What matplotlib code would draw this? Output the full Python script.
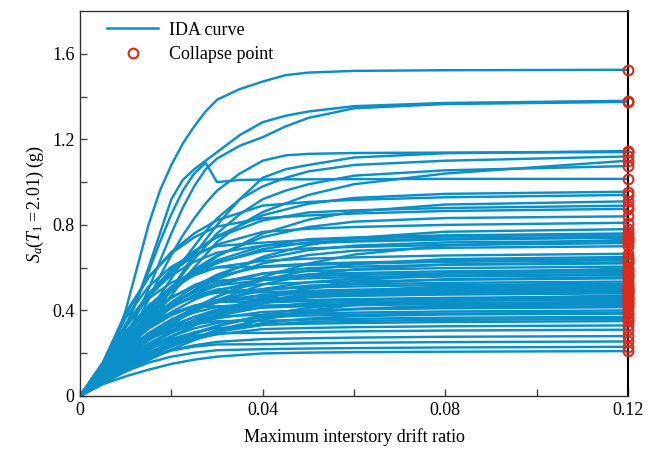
"""IDA curves with collapse points."""

import matplotlib

matplotlib.use("Agg")
import matplotlib.pyplot as plt
from matplotlib.lines import Line2D

# drift grids shared by the IDA curves
drift_fine = [0, 0.005, 0.0075, 0.01, 0.0125, 0.015, 0.0175, 0.02, 0.0225, 0.025, 0.0275,
              0.03, 0.035, 0.04, 0.045, 0.05, 0.06, 0.08, 0.12]
drift = [0, 0.005, 0.01, 0.015, 0.02, 0.025, 0.03, 0.04, 0.05, 0.06, 0.08, 0.12]

# Sa(T1) values (g); upper group on drift_fine, others on drift
sa_upper = [
    [0, 0.12, 0.24, 0.40, 0.60, 0.80, 0.96, 1.08, 1.18, 1.26, 1.33, 1.385, 1.435, 1.47, 1.50, 1.512, 1.52, 1.523, 1.525],
    [0, 0.12, 0.21, 0.32, 0.45, 0.60, 0.76, 0.92, 1.01, 1.06, 1.10, 1.14, 1.22, 1.28, 1.31, 1.33, 1.355, 1.37, 1.38],
    [0, 0.11, 0.19, 0.28, 0.38, 0.50, 0.63, 0.76, 0.88, 0.98, 1.06, 1.11, 1.17, 1.21, 1.26, 1.30, 1.345, 1.365, 1.375],
    [0, 0.13, 0.22, 0.33, 0.45, 0.58, 0.72, 0.85, 0.96, 1.04, 1.09, 1.00, 1.01, 1.012, 1.013, 1.013, 1.014, 1.015, 1.015],
    [0, 0.09, 0.14, 0.20, 0.27, 0.34, 0.42, 0.50, 0.58, 0.66, 0.73, 0.80, 0.92, 1.02, 1.06, 1.08, 1.115, 1.135, 1.145],
    [0, 0.11, 0.18, 0.26, 0.35, 0.45, 0.56, 0.66, 0.75, 0.83, 0.90, 0.96, 1.04, 1.10, 1.125, 1.132, 1.136, 1.138, 1.14],
    [0, 0.10, 0.16, 0.23, 0.31, 0.39, 0.47, 0.55, 0.63, 0.70, 0.77, 0.83, 0.92, 0.98, 1.02, 1.05, 1.08, 1.10, 1.12],
    [0, 0.09, 0.14, 0.20, 0.26, 0.33, 0.40, 0.47, 0.54, 0.60, 0.66, 0.72, 0.80, 0.86, 0.90, 0.94, 0.99, 1.04, 1.10],
    [0, 0.10, 0.16, 0.22, 0.29, 0.36, 0.43, 0.50, 0.57, 0.64, 0.70, 0.76, 0.85, 0.92, 0.96, 0.99, 1.03, 1.055, 1.075],
]

sa_high = [
    [0, 0.150, 0.321, 0.460, 0.577, 0.672, 0.747, 0.845, 0.899, 0.926, 0.945, 0.955],
    [0, 0.155, 0.380, 0.553, 0.673, 0.760, 0.822, 0.890, 0.907, 0.917, 0.929, 0.94],
    [0, 0.136, 0.265, 0.384, 0.489, 0.578, 0.652, 0.759, 0.824, 0.862, 0.895, 0.91],
    [0, 0.150, 0.330, 0.478, 0.591, 0.678, 0.742, 0.821, 0.858, 0.868, 0.879, 0.89],
    [0, 0.155, 0.390, 0.556, 0.667, 0.742, 0.792, 0.831, 0.844, 0.853, 0.865, 0.875],
    [0, 0.140, 0.282, 0.405, 0.507, 0.591, 0.657, 0.743, 0.790, 0.815, 0.832, 0.84],
    [0, 0.150, 0.335, 0.476, 0.580, 0.655, 0.708, 0.767, 0.782, 0.790, 0.800, 0.81],
    [0, 0.116, 0.227, 0.329, 0.419, 0.495, 0.558, 0.651, 0.706, 0.739, 0.768, 0.78],
    [0, 0.145, 0.289, 0.408, 0.505, 0.579, 0.634, 0.701, 0.733, 0.741, 0.751, 0.76],
    [0, 0.155, 0.365, 0.512, 0.604, 0.664, 0.701, 0.717, 0.729, 0.736, 0.746, 0.755],
    [0, 0.140, 0.283, 0.400, 0.495, 0.568, 0.621, 0.687, 0.718, 0.726, 0.736, 0.745],
    [0, 0.150, 0.335, 0.470, 0.564, 0.628, 0.670, 0.703, 0.714, 0.722, 0.731, 0.74],
    [0, 0.091, 0.179, 0.261, 0.337, 0.405, 0.464, 0.556, 0.619, 0.661, 0.704, 0.73],
    [0, 0.125, 0.244, 0.349, 0.438, 0.510, 0.567, 0.642, 0.682, 0.703, 0.718, 0.725],
    [0, 0.145, 0.300, 0.420, 0.512, 0.578, 0.625, 0.677, 0.690, 0.697, 0.706, 0.715],
    [0, 0.121, 0.235, 0.337, 0.423, 0.493, 0.547, 0.620, 0.659, 0.679, 0.693, 0.70],
]

sa_mid = [
    [0, 0.145, 0.300, 0.422, 0.507, 0.564, 0.602, 0.632, 0.642, 0.648, 0.657, 0.665],
    [0, 0.097, 0.189, 0.274, 0.349, 0.413, 0.465, 0.542, 0.588, 0.616, 0.640, 0.65],
    [0, 0.141, 0.270, 0.376, 0.458, 0.518, 0.559, 0.606, 0.618, 0.624, 0.632, 0.64],
    [0, 0.150, 0.330, 0.455, 0.530, 0.575, 0.601, 0.603, 0.613, 0.619, 0.627, 0.635],
    [0, 0.093, 0.182, 0.264, 0.336, 0.397, 0.448, 0.521, 0.566, 0.592, 0.615, 0.625],
    [0, 0.122, 0.236, 0.333, 0.412, 0.472, 0.517, 0.572, 0.598, 0.605, 0.613, 0.62],
    [0, 0.134, 0.255, 0.356, 0.433, 0.489, 0.529, 0.573, 0.584, 0.590, 0.598, 0.605],
    [0, 0.074, 0.146, 0.213, 0.275, 0.330, 0.378, 0.453, 0.505, 0.538, 0.574, 0.595],
    [0, 0.116, 0.224, 0.317, 0.392, 0.450, 0.492, 0.544, 0.569, 0.575, 0.583, 0.59],
    [0, 0.150, 0.291, 0.393, 0.464, 0.510, 0.539, 0.551, 0.560, 0.566, 0.573, 0.58],
    [0, 0.140, 0.263, 0.362, 0.434, 0.483, 0.516, 0.542, 0.550, 0.556, 0.563, 0.57],
    [0, 0.098, 0.190, 0.272, 0.341, 0.398, 0.442, 0.500, 0.532, 0.548, 0.559, 0.565],
    [0, 0.083, 0.162, 0.234, 0.298, 0.352, 0.397, 0.463, 0.502, 0.526, 0.546, 0.555],
    [0, 0.135, 0.254, 0.349, 0.419, 0.466, 0.498, 0.523, 0.531, 0.536, 0.543, 0.55],
    [0, 0.105, 0.203, 0.287, 0.355, 0.408, 0.446, 0.493, 0.516, 0.522, 0.529, 0.535],
    [0, 0.141, 0.263, 0.356, 0.420, 0.462, 0.488, 0.499, 0.507, 0.512, 0.519, 0.525],
    [0, 0.077, 0.151, 0.219, 0.279, 0.330, 0.372, 0.434, 0.471, 0.492, 0.512, 0.52],
    [0, 0.148, 0.274, 0.365, 0.425, 0.462, 0.483, 0.485, 0.492, 0.497, 0.504, 0.51],
    [0, 0.087, 0.170, 0.243, 0.305, 0.356, 0.395, 0.447, 0.475, 0.490, 0.500, 0.505],
    [0, 0.111, 0.211, 0.294, 0.358, 0.405, 0.437, 0.474, 0.483, 0.488, 0.494, 0.50],
    [0, 0.121, 0.229, 0.314, 0.377, 0.420, 0.448, 0.470, 0.478, 0.483, 0.489, 0.495],
    [0, 0.085, 0.165, 0.236, 0.296, 0.345, 0.383, 0.434, 0.461, 0.475, 0.485, 0.49],
    [0, 0.096, 0.184, 0.260, 0.322, 0.370, 0.404, 0.447, 0.468, 0.473, 0.479, 0.485],
    [0, 0.129, 0.240, 0.325, 0.384, 0.422, 0.446, 0.456, 0.463, 0.468, 0.474, 0.48],
    [0, 0.058, 0.115, 0.168, 0.217, 0.261, 0.298, 0.358, 0.399, 0.425, 0.453, 0.47],
    [0, 0.135, 0.250, 0.333, 0.388, 0.421, 0.440, 0.442, 0.449, 0.453, 0.459, 0.465],
    [0, 0.113, 0.213, 0.292, 0.351, 0.390, 0.416, 0.437, 0.444, 0.449, 0.454, 0.46],
    [0, 0.068, 0.132, 0.192, 0.244, 0.289, 0.326, 0.379, 0.412, 0.431, 0.448, 0.455],
    [0, 0.089, 0.171, 0.242, 0.299, 0.343, 0.375, 0.415, 0.434, 0.439, 0.445, 0.45],
    [0, 0.148, 0.266, 0.344, 0.389, 0.414, 0.420, 0.423, 0.426, 0.429, 0.435, 0.44],
    [0, 0.107, 0.201, 0.276, 0.331, 0.369, 0.394, 0.413, 0.420, 0.424, 0.430, 0.435],
    [0, 0.064, 0.125, 0.181, 0.231, 0.273, 0.308, 0.359, 0.389, 0.407, 0.423, 0.43],
    [0, 0.073, 0.141, 0.202, 0.254, 0.296, 0.328, 0.372, 0.395, 0.407, 0.416, 0.42],
    [0, 0.092, 0.175, 0.244, 0.297, 0.336, 0.363, 0.393, 0.400, 0.405, 0.410, 0.415],
    [0, 0.107, 0.200, 0.271, 0.320, 0.352, 0.372, 0.380, 0.386, 0.390, 0.395, 0.40],
    [0, 0.086, 0.165, 0.229, 0.279, 0.316, 0.341, 0.369, 0.376, 0.380, 0.385, 0.39],
]

sa_low = [
    [0, 0.067, 0.129, 0.186, 0.233, 0.271, 0.301, 0.341, 0.362, 0.373, 0.381, 0.385],
    [0, 0.108, 0.199, 0.265, 0.309, 0.335, 0.350, 0.352, 0.357, 0.361, 0.366, 0.37],
    [0, 0.071, 0.137, 0.193, 0.239, 0.274, 0.300, 0.332, 0.347, 0.351, 0.356, 0.36],
    [0, 0.086, 0.162, 0.222, 0.267, 0.297, 0.317, 0.333, 0.338, 0.341, 0.346, 0.35],
    [0, 0.073, 0.139, 0.194, 0.236, 0.267, 0.288, 0.313, 0.318, 0.322, 0.326, 0.33],
    [0, 0.090, 0.166, 0.222, 0.259, 0.281, 0.294, 0.295, 0.299, 0.302, 0.306, 0.31],
    [0, 0.069, 0.129, 0.178, 0.213, 0.237, 0.253, 0.266, 0.270, 0.273, 0.277, 0.28],
    [0, 0.074, 0.137, 0.183, 0.213, 0.231, 0.241, 0.242, 0.246, 0.249, 0.252, 0.255],
    [0, 0.062, 0.115, 0.156, 0.184, 0.202, 0.214, 0.219, 0.222, 0.224, 0.227, 0.23],
    [0, 0.055, 0.092, 0.123, 0.150, 0.170, 0.184, 0.199, 0.203, 0.205, 0.207, 0.21],
]

collapse_drift = 0.12

blue = "#0a8fc8"
red = "#dd2a1b"

plt.rcParams["font.family"] = "Liberation Serif"
plt.rcParams["mathtext.fontset"] = "custom"
plt.rcParams["mathtext.rm"] = "Liberation Serif"
plt.rcParams["mathtext.it"] = "Liberation Serif:italic"

fig = plt.figure(figsize=(6.58, 4.5), dpi=100)
ax = fig.add_axes([0.1216, 0.12, 0.8328, 0.8556])

for sa in sa_upper:
    ax.plot(drift_fine, sa, color=blue, linewidth=1.75, solid_joinstyle="round", zorder=2)
for sa in sa_high + sa_mid + sa_low:
    ax.plot(drift, sa, color=blue, linewidth=1.75, solid_joinstyle="round", zorder=2)

collapse_sa = [sa[-1] for sa in sa_upper + sa_high + sa_mid + sa_low]
ax.plot([collapse_drift] * len(collapse_sa), collapse_sa, linestyle="none", marker="o",
        markersize=7, markerfacecolor="none", markeredgecolor=red, markeredgewidth=1.5,
        clip_on=False, zorder=3)

ax.set_xlim(0, 0.12)
ax.set_ylim(0, 1.8)
ax.set_xticks([0, 0.02, 0.04, 0.06, 0.08, 0.10, 0.12])
ax.set_xticklabels(["0", "", "0.04", "", "0.08", "", "0.12"])
ax.set_yticks([0, 0.2, 0.4, 0.6, 0.8, 1.0, 1.2, 1.4, 1.6])
ax.set_yticklabels(["0", "", "0.4", "", "0.8", "", "1.2", "", "1.6"])
ax.tick_params(direction="in", length=5, width=1, color="#444444", labelsize=13, pad=4)

for side in ["left", "bottom", "top"]:
    ax.spines[side].set_color("#333333")
    ax.spines[side].set_linewidth(1.0)
ax.spines["right"].set_color("black")
ax.spines["right"].set_linewidth(1.5)

ax.set_xlabel("Maximum interstory drift ratio", fontsize=13, labelpad=7)
ax.set_ylabel(r"$S_a(T_1 = 2.01)$ (g)", fontsize=13, labelpad=4)

handles = [
    Line2D([], [], color=blue, linewidth=1.8, label="IDA curve"),
    Line2D([], [], linestyle="none", marker="o", markersize=7, markerfacecolor="none",
           markeredgecolor=red, markeredgewidth=1.5, label="Collapse point"),
]
ax.legend(handles=handles, loc="upper left", bbox_to_anchor=(0.03, 1.0), frameon=False,
          fontsize=13, handlelength=2.8, borderaxespad=0.2, labelspacing=0.4,
          handletextpad=0.6)

fig.savefig("out.png", dpi=100)
plt.close(fig)
